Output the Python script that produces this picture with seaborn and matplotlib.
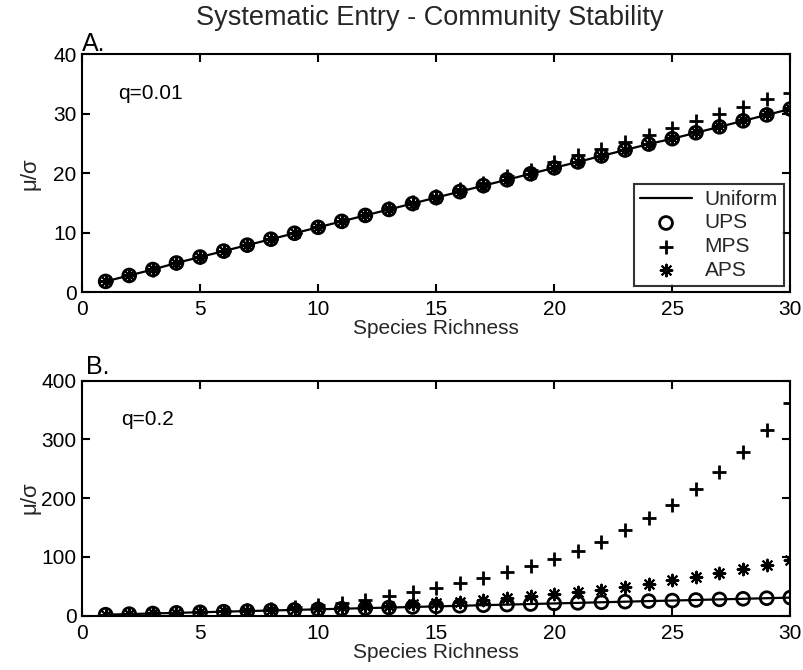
import matplotlib
matplotlib.use("Agg")
import matplotlib.pyplot as plt
import seaborn as sns
import pandas as pd

richness = list(range(1, 31))

# Panel A (q=0.01)
a_uniform = [1.8, 2.8, 3.8, 4.9, 5.9, 6.9, 7.9, 8.9, 9.9, 10.9, 11.9, 12.9, 13.9, 14.9, 15.9,
             16.9, 17.9, 18.9, 19.9, 20.9, 21.9, 22.9, 23.9, 24.9, 25.8, 26.8, 27.8, 28.8, 29.8, 30.8]
a_ups = [1.8, 2.8, 3.8, 4.9, 5.9, 6.9, 7.9, 8.9, 9.9, 10.9, 11.9, 12.9, 13.9, 14.9, 15.9,
         16.9, 17.9, 18.9, 19.9, 20.9, 21.9, 22.9, 23.9, 24.9, 25.8, 26.8, 27.8, 28.8, 29.8, 30.8]
a_mps = [1.8, 2.8, 3.8, 4.9, 5.9, 6.9, 7.9, 8.9, 9.9, 11.0, 12.0, 13.0, 14.1, 15.1, 16.2,
         17.3, 18.4, 19.5, 20.6, 21.8, 23.0, 24.1, 25.3, 26.4, 27.6, 28.8, 30.0, 31.2, 32.4, 33.5]
a_aps = [1.8, 2.8, 3.9, 4.9, 5.9, 6.9, 7.9, 8.9, 9.9, 10.9, 11.9, 12.9, 13.9, 14.9, 15.9,
         16.9, 17.9, 18.9, 19.9, 20.9, 21.9, 22.9, 23.9, 24.9, 25.9, 26.9, 27.9, 28.9, 29.9, 30.9]

# Panel B (q=0.2)
b_uniform = [1.8, 2.8, 3.8, 4.9, 5.9, 6.9, 7.9, 8.9, 9.9, 10.9, 11.9, 12.9, 13.9, 14.9, 15.9,
             16.9, 17.9, 18.9, 19.9, 20.9, 21.9, 22.9, 23.9, 24.9, 25.8, 26.8, 27.8, 28.8, 29.8, 30.8]
b_ups = [1.8, 2.8, 3.8, 4.9, 5.9, 6.9, 7.9, 8.9, 9.9, 10.9, 11.9, 12.9, 13.9, 14.9, 15.9,
         16.9, 17.9, 18.9, 19.9, 20.9, 21.9, 22.9, 23.9, 24.9, 25.8, 26.8, 27.8, 28.8, 29.8, 30.8]
b_mps = [1.8, 2.9, 4.0, 5.2, 6.5, 7.9, 9.6, 11.8, 14.5, 18.0, 22.0, 27.0, 33.0, 40.0, 47.0,
         56.0, 64.0, 74.0, 84.0, 96.0, 110.0, 126.0, 145.0, 166.0, 189.0, 215.0, 244.0, 278.0, 316.0, 361.0]
b_aps = [1.8, 2.9, 3.9, 5.0, 6.2, 7.4, 8.6, 9.9, 11.2, 12.6, 14.1, 15.7, 17.4, 19.4, 21.5,
         23.8, 26.6, 29.8, 33.0, 36.5, 41.0, 44.5, 49.0, 54.0, 60.0, 66.0, 73.0, 79.0, 87.0, 95.0]

sns.set_theme(style="white")
plt.rcParams['font.family'] = ['Liberation Sans', 'DejaVu Sans']
plt.rcParams['xtick.direction'] = 'in'
plt.rcParams['ytick.direction'] = 'in'

fig = plt.figure(figsize=(8.04, 6.70), dpi=100)
ax1 = fig.add_axes([0.102, 0.564, 0.881, 0.355])
ax2 = fig.add_axes([0.102, 0.081, 0.881, 0.351])

star = (8, 2, 0)


def draw(ax, uni, ups, mps, aps, ymax, yticks, qtext, qx, letter, lx, ly, legend):
    df = pd.DataFrame({"x": richness, "uni": uni, "ups": ups, "mps": mps, "aps": aps})
    sns.lineplot(data=df, x="x", y="uni", ax=ax, color="black", lw=1.6, label="Uniform" if legend else None)
    sns.scatterplot(data=df, x="x", y="ups", ax=ax, marker="o", s=85, facecolor="none",
                    edgecolor="black", linewidth=2, label="UPS" if legend else None)
    sns.scatterplot(data=df, x="x", y="mps", ax=ax, marker="+", s=100, color="black",
                    linewidth=2, label="MPS" if legend else None)
    sns.scatterplot(data=df, x="x", y="aps", ax=ax, marker=star, s=70, color="black",
                    linewidth=1.5, label="APS" if legend else None)
    ax.set_xlim(0, 30)
    ax.set_ylim(0, ymax)
    ax.set_xticks([0, 5, 10, 15, 20, 25, 30])
    ax.set_yticks(yticks)
    ax.tick_params(axis="both", which="both", labelsize=15, direction="in", length=6, width=1.5,
                   top=True, right=True, bottom=True, left=True, colors="black")
    ax.tick_params(axis="x", pad=6)
    ax.tick_params(axis="y", pad=4)
    for s in ax.spines.values():
        s.set_color("black")
        s.set_linewidth(1.5)
    ax.set_xlabel("Species Richness", fontsize=15, labelpad=0)
    ax.set_ylabel("μ/σ", fontsize=16)
    ax.yaxis.set_label_coords(-0.058, 0.5)
    ax.text(qx, 0.836, qtext, transform=ax.transAxes, fontsize=15, va="center", color="black")
    ax.text(lx, ly, letter, transform=ax.transAxes, fontsize=18, ha="left", va="baseline", color="black")
    if legend:
        leg = ax.legend(loc="lower right", fontsize=15, frameon=True, fancybox=False,
                        edgecolor="black", borderpad=0.3, labelspacing=0.22, handlelength=2.5,
                        handletextpad=0.6, borderaxespad=0.3)
        leg.get_frame().set_linewidth(1.5)
    else:
        if ax.get_legend() is not None:
            ax.get_legend().remove()


draw(ax1, a_uniform, a_ups, a_mps, a_aps, 40, [0, 10, 20, 30, 40], "q=0.01", 0.051, "A.", 0.0, 1.013, True)
draw(ax2, b_uniform, b_ups, b_mps, b_aps, 400, [0, 100, 200, 300, 400], "q=0.2", 0.055, "B.", 0.005, 1.03, False)

fig.text(0.535, 0.973, "Systematic Entry - Community Stability", ha="center", va="center", fontsize=19.5)

fig.savefig("out.png", dpi=100)
